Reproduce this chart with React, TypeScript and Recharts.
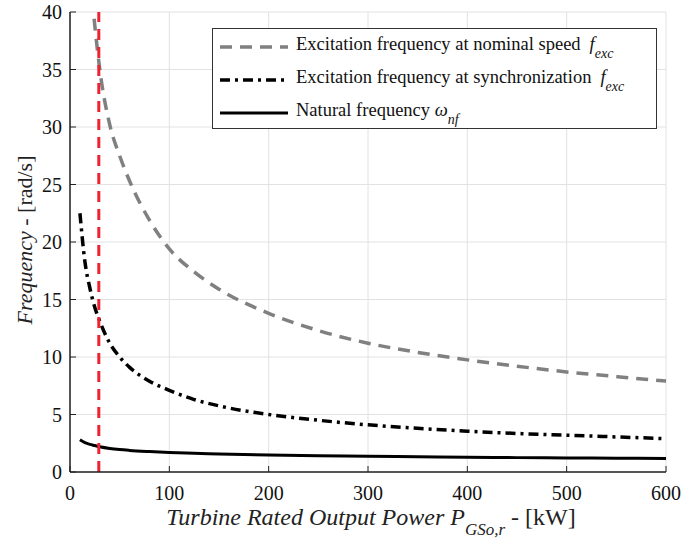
import { LineChart, Line, XAxis, YAxis, CartesianGrid, ReferenceLine } from 'recharts';

// rated output power [kW]
const power = [10, 15, 20, 25, 30, 40, 50, 60, 80, 100, 125, 150, 200, 250, 300, 350, 400, 450, 500, 550, 600];
// excitation frequency at nominal speed [rad/s]
const nominal = [62, 50, 43.5, 38.8, 35, 30.2, 27.5, 25.3, 21.9, 19.4, 17.4, 15.9, 13.8, 12.3, 11.2, 10.4, 9.75, 9.2, 8.7, 8.3, 7.9];
// excitation frequency at synchronization [rad/s]
const synchro = [22.5, 18.3, 16, 14.3, 13.1, 11.2, 10, 9.1, 7.9, 7.1, 6.3, 5.75, 5.0, 4.5, 4.1, 3.8, 3.55, 3.35, 3.2, 3.05, 2.9];
// natural frequency [rad/s]
const natural = [2.8, 2.55, 2.4, 2.3, 2.2, 2.05, 1.95, 1.88, 1.78, 1.7, 1.62, 1.57, 1.48, 1.42, 1.37, 1.32, 1.28, 1.25, 1.22, 1.2, 1.17];

const xTicks = [0, 100, 200, 300, 400, 500, 600];
const yTicks = [0, 5, 10, 15, 20, 25, 30, 35, 40];
const limitPower = 29;

const data = power.map((p, i) => ({ p, nominal: nominal[i], synchro: synchro[i], natural: natural[i] }));

const font = '"Liberation Serif", "Nimbus Roman", Tinos, "DejaVu Serif", serif';
const tickStyle = { fontSize: 20, fill: '#111', fontFamily: font };

function Fexc() {
  return (
    <span style={{ marginLeft: 9 }}>
      <i>f</i>
      <sub style={{ fontSize: 14, fontStyle: 'italic', position: 'relative', top: 3 }}>exc</sub>
    </span>
  );
}

function LegendRow({ dash, color, width, children }: { dash?: string; color: string; width: number; children: any }) {
  return (
    <div style={{ display: 'flex', alignItems: 'center', height: 33 }}>
      <svg width={76} height={10} style={{ marginLeft: 7, flex: 'none' }}>
        <line x1={0} y1={5} x2={68} y2={5} stroke={color} strokeWidth={width} strokeDasharray={dash} />
      </svg>
      <span style={{ whiteSpace: 'nowrap' }}>{children}</span>
    </div>
  );
}

export default function App() {
  return (
    <div style={{ position: 'absolute', left: 0, top: 0, width: 682, height: 543, background: '#fff', fontFamily: font }}>
      <LineChart width={682} height={543} data={data} margin={{ top: 12, right: 16, bottom: 0, left: 0 }}>
        <CartesianGrid stroke="#e2e2e2" strokeWidth={1} />
        <XAxis
          dataKey="p"
          type="number"
          domain={[0, 600]}
          ticks={xTicks}
          height={71}
          tick={tickStyle}
          tickSize={-6}
          tickMargin={20}
          axisLine={{ stroke: '#222', strokeWidth: 1.5 }}
          tickLine={{ stroke: '#222' }}
        />
        <XAxis xAxisId="top" orientation="top" dataKey="p" type="number" domain={[0, 600]} ticks={xTicks} height={0} tick={false} tickSize={-6} axisLine={{ stroke: '#222', strokeWidth: 1.5 }} tickLine={{ stroke: '#222' }} />
        <YAxis
          type="number"
          domain={[0, 40]}
          allowDataOverflow
          ticks={yTicks}
          width={70}
          tick={tickStyle}
          tickSize={-6}
          tickMargin={14}
          axisLine={{ stroke: '#222', strokeWidth: 1.5 }}
          tickLine={{ stroke: '#222' }}
        />
        <YAxis yAxisId="right" orientation="right" type="number" domain={[0, 40]} ticks={yTicks} width={0} tick={false} tickSize={-6} axisLine={{ stroke: '#222', strokeWidth: 1.5 }} tickLine={{ stroke: '#222' }} />
        <Line type="monotone" dataKey="natural" stroke="#000" strokeWidth={3} dot={false} isAnimationActive={false} />
        <Line type="monotone" dataKey="synchro" stroke="#000" strokeWidth={3.5} strokeDasharray="10 5 3 5" dot={false} isAnimationActive={false} />
        <Line type="monotone" dataKey="nominal" stroke="#808080" strokeWidth={3.5} strokeDasharray="12 8" dot={false} isAnimationActive={false} />
        <ReferenceLine x={limitPower} stroke="#ee2233" strokeWidth={3} strokeDasharray="11 7" />
      </LineChart>

      <div
        style={{
          position: 'absolute', left: 212, top: 28, width: 445, height: 101,
          border: '1px solid #333', background: '#fff', fontSize: 18.5, color: '#111', boxSizing: 'border-box', paddingTop: 1,
        }}
      >
        <LegendRow color="#808080" width={3.5} dash="12 8">Excitation frequency at nominal speed<Fexc /></LegendRow>
        <LegendRow color="#000" width={3.5} dash="10 5 3 5">Excitation frequency at synchronization<Fexc /></LegendRow>
        <LegendRow color="#000" width={3}>
          Natural frequency <i>ω</i>
          <sub style={{ fontSize: 14, fontStyle: 'italic', position: 'relative', top: 3 }}>nf</sub>
        </LegendRow>
      </div>

      <div style={{ position: 'absolute', left: 60, width: 622, top: 504, textAlign: 'center', fontSize: 24, color: '#222', whiteSpace: 'nowrap' }}>
        <i>Turbine Rated Output Power P</i>
        <sub style={{ fontSize: 17, fontStyle: 'italic', position: 'relative', top: 4 }}>GSo,r</sub>
        <span> - [kW]</span>
      </div>

      <div
        style={{
          position: 'absolute', left: 25 - 150, top: 240 - 14, width: 300, height: 28, lineHeight: '28px',
          textAlign: 'center', fontSize: 22, color: '#222', transform: 'rotate(-90deg)', whiteSpace: 'nowrap',
        }}
      >
        <i>Frequency</i> - [rad/s]
      </div>
    </div>
  );
}
